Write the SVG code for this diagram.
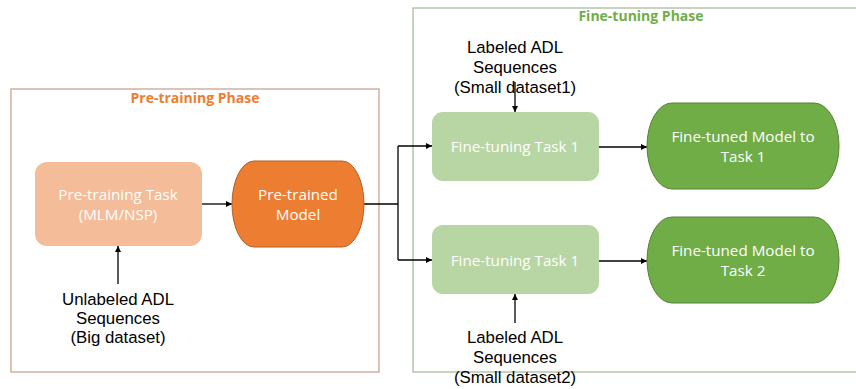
<svg xmlns="http://www.w3.org/2000/svg" width="856" height="389" viewBox="0 0 856 389">
<defs>
<marker id="ah" viewBox="0 0 10 10" refX="10" refY="5" markerWidth="6" markerHeight="6" markerUnits="userSpaceOnUse" orient="auto">
<path d="M0,0 L10,5 L0,10 z" fill="#000"/>
</marker>
</defs>
<style>
.lbl{font-family:"Liberation Sans",Arial,sans-serif;font-size:16.8px;fill:#000;text-anchor:middle}
.wt{font-family:"Open Sans","Noto Sans",sans-serif;font-size:15.2px;fill:#fff;text-anchor:middle}
.ttl{font-family:"Open Sans","Noto Sans",sans-serif;font-size:14px;font-weight:bold;text-anchor:middle}
.cn{stroke:#000;stroke-width:1.3;fill:none}
</style>
<rect width="856" height="389" fill="#fff"/>
<g id="pretraining-phase">
<rect x="11" y="89" width="368" height="283" fill="none" stroke="#C9A592" stroke-width="1.3"/>
<text class="ttl" x="195" y="103" fill="#ED7D31">Pre-training Phase</text>
</g>
<g id="finetuning-phase">
<rect x="413" y="8" width="447" height="364" fill="none" stroke="#A9BCA0" stroke-width="1.3"/>
<text class="ttl" x="641" y="21" fill="#70AD47">Fine-tuning Phase</text>
</g>
<g id="connectors">
<line class="cn" x1="202" y1="204" x2="232" y2="204" marker-end="url(#ah)"/>
<line class="cn" x1="118" y1="284" x2="118" y2="246" marker-end="url(#ah)"/>
<polyline class="cn" points="364,204 398,204"/>
<polyline class="cn" points="398,146 398,260"/>
<line class="cn" x1="398" y1="146" x2="432" y2="146" marker-end="url(#ah)"/>
<line class="cn" x1="398" y1="260" x2="432" y2="260" marker-end="url(#ah)"/>
<line class="cn" x1="599" y1="147" x2="647" y2="147" marker-end="url(#ah)"/>
<line class="cn" x1="599" y1="261" x2="647" y2="261" marker-end="url(#ah)"/>
<line class="cn" x1="515" y1="82" x2="515" y2="112" marker-end="url(#ah)"/>
<line class="cn" x1="515" y1="323" x2="515" y2="294" marker-end="url(#ah)"/>
</g>
<g id="pretraining-task">
<rect x="35" y="162" width="167" height="84" rx="12" fill="#F4BC98"/>
<text class="wt" x="118" y="200">Pre-training Task</text>
<text class="wt" x="118" y="220">(MLM/NSP)</text>
</g>
<g id="pretrained-model">
<path d="M254,161 H342 A22,43 0 0 1 342,247 H254 A22,43 0 0 1 254,161 Z" fill="#ED7D31" stroke="#B35E25" stroke-width="1"/>
<text class="wt" x="298" y="200">Pre-trained</text>
<text class="wt" x="298" y="220">Model</text>
</g>
<g id="unlabeled-data">
<text class="lbl" x="118" y="305">Unlabeled ADL</text>
<text class="lbl" x="118" y="324">Sequences</text>
<text class="lbl" x="118" y="343">(Big dataset)</text>
</g>
<g id="labeled-data-1">
<text class="lbl" x="515" y="53">Labeled ADL</text>
<text class="lbl" x="515" y="73">Sequences</text>
<text class="lbl" x="515" y="93">(Small dataset1)</text>
</g>
<g id="finetuning-task-1">
<rect x="432" y="112" width="167" height="69" rx="11" fill="#B8D6A4"/>
<text class="wt" x="515" y="152">Fine-tuning Task 1</text>
</g>
<g id="finetuned-model-1">
<path d="M672,103 H814 A25,43 0 0 1 814,189 H672 A25,43 0 0 1 672,103 Z" fill="#70AD47" stroke="#548235" stroke-width="1"/>
<text class="wt" x="743" y="142">Fine-tuned Model to</text>
<text class="wt" x="743" y="162">Task 1</text>
</g>
<g id="finetuning-task-2">
<rect x="432" y="225" width="167" height="69" rx="11" fill="#B8D6A4"/>
<text class="wt" x="515" y="266">Fine-tuning Task 1</text>
</g>
<g id="finetuned-model-2">
<path d="M672,217 H814 A25,43 0 0 1 814,303 H672 A25,43 0 0 1 672,217 Z" fill="#70AD47" stroke="#548235" stroke-width="1"/>
<text class="wt" x="743" y="256">Fine-tuned Model to</text>
<text class="wt" x="743" y="276">Task 2</text>
</g>
<g id="labeled-data-2">
<text class="lbl" x="515" y="343">Labeled ADL</text>
<text class="lbl" x="515" y="363">Sequences</text>
<text class="lbl" x="515" y="383">(Small dataset2)</text>
</g>
</svg>
